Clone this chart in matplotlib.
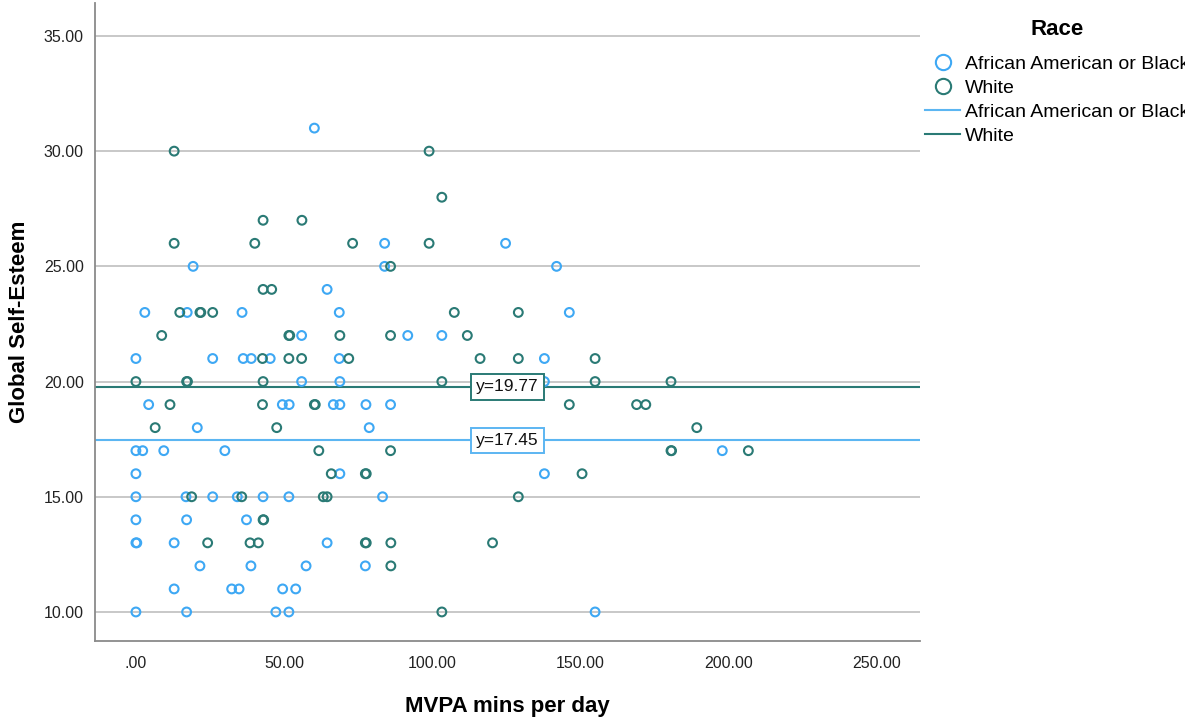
import matplotlib.pyplot as plt
from matplotlib.lines import Line2D

plt.rcParams['font.family'] = ['Liberation Sans', 'DejaVu Sans']

# African American or Black
black_x = [60.2, 83.9, 124.7, 19.3, 83.9, 141.9, 64.5,
           3.0, 17.3, 35.8, 68.6, 146.2, 55.9, 91.7, 103.2,
           0, 25.9, 36.2, 38.9, 45.3, 68.6, 137.8, 55.9, 68.8, 137.8,
           4.3, 49.4, 51.7, 66.6, 68.8, 77.6, 85.9, 20.7, 78.7,
           0, 2.3, 9.4, 30.0, 197.8, 0, 68.8, 137.8,
           0, 16.9, 25.9, 34.2, 42.9, 51.6, 83.2, 0, 17.1, 37.3,
           0, 0.3, 12.9, 64.5, 21.6, 38.8, 57.4, 77.4,
           12.9, 32.3, 34.8, 49.5, 53.9, 0, 17.1, 47.2, 51.6, 154.9]
black_y = [31, 26, 26, 25, 25, 25, 24,
           23, 23, 23, 23, 23, 22, 22, 22,
           21, 21, 21, 21, 21, 21, 21, 20, 20, 20,
           19, 19, 19, 19, 19, 19, 19, 18, 18,
           17, 17, 17, 17, 17, 16, 16, 16,
           15, 15, 15, 15, 15, 15, 15, 14, 14, 14,
           13, 13, 13, 13, 12, 12, 12, 12,
           11, 11, 11, 11, 11, 10, 10, 10, 10, 10]

# White
white_x = [12.9, 98.9, 103.2, 42.9, 56.0, 12.9, 40.1, 73.1, 98.9, 85.9,
           42.9, 45.8, 14.8, 21.6, 21.9, 25.9, 107.4, 129.0,
           8.7, 51.6, 51.9, 68.8, 85.9, 111.8,
           42.7, 51.6, 55.9, 71.8, 116.1, 129.0, 154.9,
           0, 17.1, 17.4, 42.9, 103.2, 154.9, 180.5,
           11.5, 42.7, 60.2, 60.5, 146.2, 168.9, 172.0,
           6.5, 47.5, 189.2, 61.7, 85.9, 180.5, 180.7, 206.6,
           65.9, 77.4, 77.7, 150.5, 18.8, 35.7, 63.2, 64.5, 129.0,
           42.9, 43.1, 24.2, 38.5, 41.3, 77.4, 77.7, 86.0, 120.3,
           86.0, 103.2]
white_y = [30, 30, 28, 27, 27, 26, 26, 26, 26, 25,
           24, 24, 23, 23, 23, 23, 23, 23,
           22, 22, 22, 22, 22, 22,
           21, 21, 21, 21, 21, 21, 21,
           20, 20, 20, 20, 20, 20, 20,
           19, 19, 19, 19, 19, 19, 19,
           18, 18, 18, 17, 17, 17, 17, 17,
           16, 16, 16, 16, 15, 15, 15, 15, 15,
           14, 14, 13, 13, 13, 13, 13, 13, 13,
           12, 10]

groups = ['African American or Black', 'White']
means = [17.45, 19.77]
colors = ['#3ea8f4', '#2a7a75']
line_colors = ['#5cb6f2', '#2a7a75']

fig = plt.figure(figsize=(11.85, 7.19), dpi=100)
ax = fig.add_axes([95 / 1185, 1 - 641 / 719, 825 / 1185, 638 / 719])

ax.set_xlim(-13.8, 264.5)
ax.set_ylim(8.74, 36.43)
ax.set_yticks([10, 15, 20, 25, 30, 35])
ax.set_xticks([0, 50, 100, 150, 200, 250])
ax.set_yticklabels(['10.00', '15.00', '20.00', '25.00', '30.00', '35.00'])
ax.set_xticklabels(['.00', '50.00', '100.00', '150.00', '200.00', '250.00'])
ax.tick_params(length=0, labelsize=11.5, colors='#222222')
ax.tick_params(axis='y', pad=8)
ax.tick_params(axis='x', pad=11)
ax.grid(axis='y', color='#c8c8c8', linewidth=1.4)
ax.set_axisbelow(True)
for s in ['top', 'right']:
    ax.spines[s].set_visible(False)
for s in ['left', 'bottom']:
    ax.spines[s].set_color('#8a8a8a')
    ax.spines[s].set_linewidth(1.3)

ax.scatter(black_x, black_y, s=40, facecolors='none', edgecolors=colors[0],
           linewidths=1.5, zorder=3)
ax.scatter(white_x, white_y, s=40, facecolors='none', edgecolors=colors[1],
           linewidths=1.5, zorder=3)

for m, c in zip(means, line_colors):
    ax.axhline(m, color=c, linewidth=1.5, zorder=2)
    ax.text(0.5, m, 'y=%.2f' % m, transform=ax.get_yaxis_transform(),
            ha='center', va='center', fontsize=12.5, color='#111111', zorder=5,
            bbox=dict(boxstyle='square,pad=0.3', facecolor='white',
                      edgecolor=c, linewidth=1.4))

ax.set_ylabel('Global Self-Esteem', fontsize=16, fontweight='bold', labelpad=10)
ax.set_xlabel('MVPA mins per day', fontsize=16, fontweight='bold', labelpad=18)

handles = [
    Line2D([], [], marker='o', linestyle='none', markersize=11,
           markerfacecolor='none', markeredgecolor=colors[0], markeredgewidth=1.5),
    Line2D([], [], marker='o', linestyle='none', markersize=11,
           markerfacecolor='none', markeredgecolor=colors[1], markeredgewidth=1.5),
    Line2D([], [], color=line_colors[0], linewidth=1.5),
    Line2D([], [], color=line_colors[1], linewidth=1.5),
]
leg = fig.legend(handles, groups + groups, title='Race', loc='upper left',
                 bbox_to_anchor=(925 / 1185, 1 - 19 / 719), frameon=False,
                 fontsize=14, handlelength=1.8, handletextpad=0.25,
                 labelspacing=0.33, borderpad=0, borderaxespad=0)
leg.get_title().set_fontsize(16)
leg.get_title().set_fontweight('bold')
leg._legend_box.sep = 11

fig.savefig('out.png', dpi=100)
